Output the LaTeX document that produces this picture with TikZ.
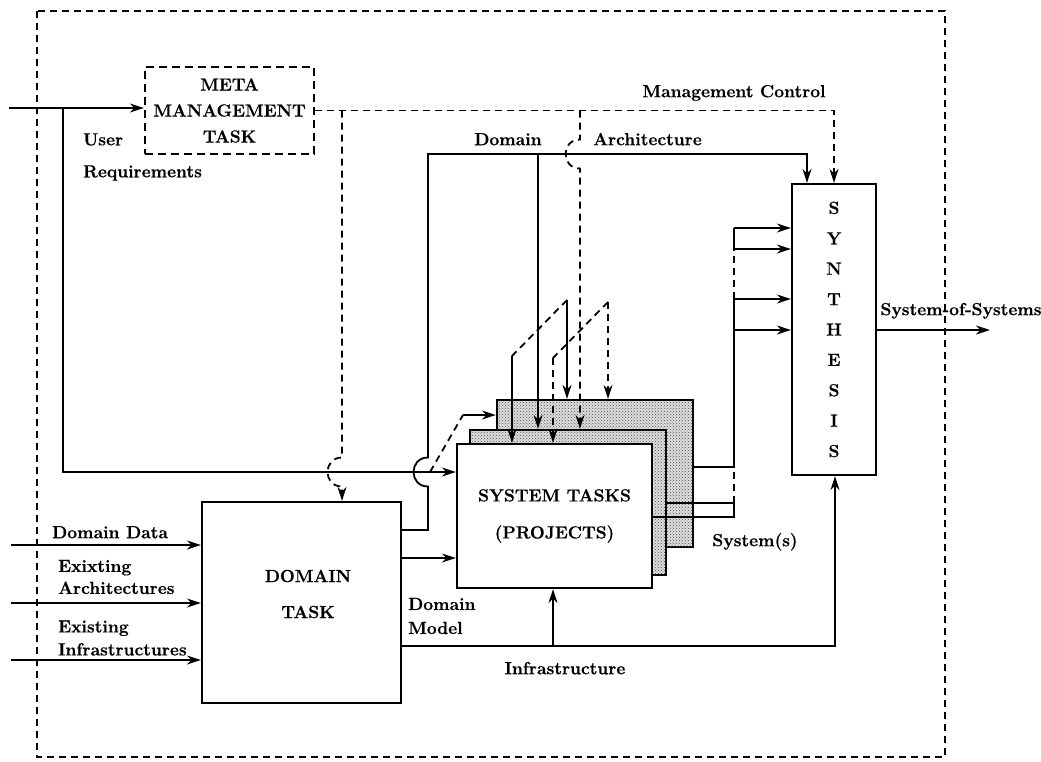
\documentclass[tikz,border=0pt]{standalone}
\usepackage{fontspec}
\setmainfont{Latin Modern Roman}[BoldFeatures={FakeBold=0.6}]
\usetikzlibrary{arrows.meta,patterns}
\begin{document}
\begin{tikzpicture}[x=1pt,y=-1pt,
  every node/.style={font=\fontsize{17.5}{20}\selectfont\bfseries},
  box/.style={draw, line width=2.3pt, inner sep=0pt},
  lbl/.style={inner sep=0pt, text height=12pt, text depth=3.6pt},
  mlbl/.style={inner sep=0pt, align=left},
  conn/.style={line width=1.8pt},
  dsh/.style={line width=1.8pt, dash pattern=on 7pt off 5pt},
  arr/.style={-{Stealth[length=14pt,width=9pt,inset=4.5pt]}},
  layer/.style={box, fill=gray!25, postaction={pattern=crosshatch dots, pattern color=black!70}},
]
\useasboundingbox (0,0) rectangle (1041,761);

% outer frame
\coordinate (fr1) at (37,11);
\coordinate (fr2) at (945,757);
\draw[dsh] (fr1) rectangle (fr2);

% boxes
\node[box, dash pattern=on 8pt off 5pt, minimum width=169pt, minimum height=87pt, align=center,
      font=\fontsize{17.5}{26}\selectfont\bfseries] (meta) at (229.5,110.5) {META\\MANAGEMENT\\TASK};
\node[box, minimum width=199pt, minimum height=201pt] (dom) at (301.5,602.5) {};
\node[inner sep=0pt, align=center, font=\fontsize{17.5}{36}\selectfont\bfseries] (domtxt) at (308,594) {DOMAIN\\TASK};
\node[box, minimum width=84pt, minimum height=291pt, align=center,
      font=\fontsize{17.5}{30.4}\selectfont\bfseries] (synth) at (834,329.5) {S\\Y\\N\\T\\H\\E\\S\\I\\S};
\node[layer, minimum width=196pt, minimum height=147pt] (back) at (595,473.5) {};
\node[layer, minimum width=196pt, minimum height=145pt] (mid) at (568,502.5) {};
\node[box, fill=white, minimum width=195pt, minimum height=144pt, align=center,
      font=\fontsize{17.5}{37}\selectfont\bfseries] (front) at (554.5,516) {SYSTEM TASKS\\(PROJECTS)};

% labels
\node[mlbl, anchor=west, font=\fontsize{17.5}{32}\selectfont\bfseries] (ureq) at (83,157) {User\\Requirements};
\node[lbl] (ldom) at (508,141) {Domain};
\node[lbl, anchor=west] (larch) at (593,141) {Architecture};
\node[lbl] (lmc) at (734,93) {Management Control};
\node[lbl] (lsos) at (961,311) {System-of-Systems};
\node[lbl] (lsys) at (755,542) {System(s)};
\node[lbl, anchor=west] (ldd) at (52,534) {Domain Data};
\node[mlbl, anchor=west, font=\fontsize{17.5}{22}\selectfont\bfseries] (lea) at (58,577) {Exixting\\Architectures};
\node[mlbl, anchor=west, font=\fontsize{17.5}{23}\selectfont\bfseries] (lei) at (58,638) {Existing\\Infrastructures};
\node[mlbl, anchor=west, font=\fontsize{17.5}{24}\selectfont\bfseries] (ldm) at (408,616) {Domain\\Model};
\node[lbl] (linf) at (565,670) {Infrastructure};

% user requirements
\coordinate (uin) at (9,108);
\coordinate (ubr) at (63,108);
\coordinate (ucor) at (63,472);
\draw[conn,arr] (uin) -- (uin -| meta.west);
\draw[conn,arr] (ubr) -- (ucor) -- (front.west |- ucor);
\coordinate (ud1) at (430,472);
\coordinate (ud2) at (463,415);
\draw[dsh] (ud1) -- (ud2);
\draw[conn,arr] (ud2) -- (back.west |- ud2);

% domain bus (domain / architecture)
\coordinate (dbL) at (428,154);
\coordinate (dbR) at (807,154);
\draw[conn,arr] (dom.east |- 0,530) -- (428,530) -- (428,486.5)
  .. controls (408.7,486.5) and (408.7,457.5) .. (428,457.5) -- (dbL) -- (dbR) -- (dbR |- synth.north);
\coordinate (dbD) at (538,154);
\draw[conn,arr] (dbD) -- (dbD |- mid.north);
\coordinate (dA) at (567,300);
\coordinate (dB) at (512,356);
\draw[conn,arr] (dA) -- (dA |- back.north);
\draw[dsh] (dA) -- (dB);
\draw[conn,arr] (dB) -- (dB |- front.north);

% management control
\coordinate (mcR) at (834,110.5);
\draw[dsh,arr] (meta.east) -- (mcR) -- (mcR |- synth.north);
\coordinate (mc1) at (342,110.5);
\draw[dsh,arr] (mc1) -- (342,457.5)
  .. controls (322.7,457.5) and (322.7,486.5) .. (342,486.5) -- (mc1 |- dom.north);
\coordinate (mc2) at (580,110.5);
\draw[dsh,arr] (mc2) -- (580,139.5)
  .. controls (560.7,139.5) and (560.7,168.5) .. (580,168.5) -- (mc2 |- mid.north);
\coordinate (mA) at (608,302);
\coordinate (mB) at (553,358);
\draw[dsh,arr] (mA) -- (mA |- back.north);
\draw[dsh] (mA) -- (mB);
\draw[dsh,arr] (mB) -- (mB |- front.north);

% domain model / infrastructure
\draw[conn,arr] (dom.east |- 0,558) -- (front.west |- 0,558);
\coordinate (infR) at (835,646);
\coordinate (infB) at (553,646);
\draw[conn,arr] (dom.east |- infR) -- (infR) -- (infR |- synth.south);
\draw[conn,arr] (infB) -- (infB |- front.south);

% system outputs
\coordinate (s1) at (734,467);
\coordinate (s2) at (734,503);
\coordinate (s3) at (734,517);
\coordinate (sa) at (734,299);
\coordinate (sb) at (734,330);
\coordinate (sc) at (734,228);
\coordinate (sd) at (734,249);
\draw[conn] (back.east |- s1) -- (s1) -- (sa);
\draw[conn,arr] (sa) -- (synth.west |- sa);
\draw[conn,arr] (sb) -- (synth.west |- sb);
\draw[conn] (mid.east |- s2) -- (s2);
\draw[conn] (front.east |- s3) -- (s3) -- (s2);
\draw[dsh] (s2) -- (sd);
\draw[conn] (sd) -- (sc);
\draw[conn,arr] (sc) -- (synth.west |- sc);
\draw[conn,arr] (sd) -- (synth.west |- sd);

% system of systems
\coordinate (sos) at (990,330);
\draw[conn,arr] (synth.east |- sos) -- (sos);

% external inputs to domain task
\coordinate (in1) at (11,545);
\coordinate (in2) at (11,603);
\coordinate (in3) at (11,660);
\draw[conn,arr] (in1) -- (dom.west |- in1);
\draw[conn,arr] (in2) -- (dom.west |- in2);
\draw[conn,arr] (in3) -- (dom.west |- in3);
\end{tikzpicture}
\end{document}
